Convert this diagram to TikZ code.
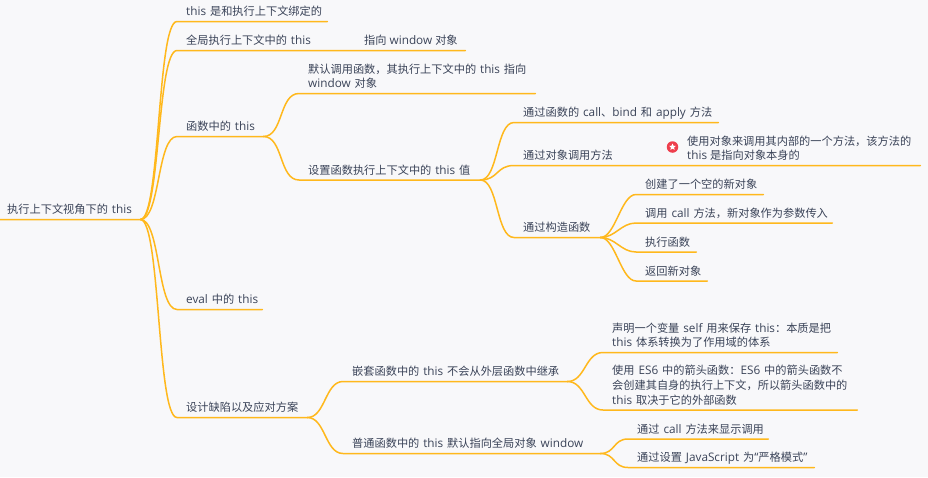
\documentclass[tikz,border=0pt]{standalone}
\usepackage{fontspec}
\setmainfont[Scale=1.05]{Open Sans}
\newfontfamily\cjk{Noto Sans CJK SC}
\usetikzlibrary{shapes.geometric}
\newcommand{\C}[1]{{\cjk #1}}
\definecolor{bgc}{HTML}{F8F8FA}
\definecolor{linec}{HTML}{FFB81C}
\definecolor{textc}{HTML}{3A4358}
\definecolor{starc}{HTML}{EE3F4D}
\tikzset{
  topic/.style={anchor=south west,inner xsep=0pt,inner ysep=0pt,text width=#1,align=left,text depth=5.5pt,
    text=textc,font=\fontsize{11.2}{14.7}\selectfont},
  plain/.style={anchor=south west,inner sep=0pt,text depth=5.5pt,text=textc,align=left,font=\fontsize{11.2}{14.7}\selectfont},
  twolines/.style={text depth=20.2pt},
  threelines/.style={text depth=34.9pt},
  linkc/.style={draw=linec,line width=1.5pt,line cap=round}
}
\newcommand{\branch}[3]{\draw[linkc] (#1.south east) .. controls +(#3,0) and +(-#3,0) .. ([xshift=-9pt]#2.south west) -- (#2.south east);}
\begin{document}
\begin{tikzpicture}[x=1pt,y=-1pt]
\fill[bgc] (0,0) rectangle (928,477);
\useasboundingbox (0,0) rectangle (928,477);
% nodes
\node[topic=140pt] (root) at (0,219.5) {\hspace{7pt}\C{执行上下文视角下的} this};
\node[topic=141pt] (n1) at (186,21.5) {this \C{是和执行上下文绑定的}};
\node[topic=279pt] (n2) at (186,50.5) {\C{全局执行上下文中的} this};
\node[plain] (n2b) at (364,50.5) {\C{指向} window \C{对象}};
\node[topic=77pt] (n3) at (186,136.5) {\C{函数中的} this};
\node[topic=227pt,twolines] (n3a) at (308,93.5) {\C{默认调用函数，其执行上下文中的} this \C{指向}\\window \C{对象}};
\node[topic=172pt] (n3b) at (308,180) {\C{设置函数执行上下文中的} this \C{值}};
\node[topic=195pt] (n3b1) at (523,122.5) {\C{通过函数的} call\C{、}bind \C{和} apply \C{方法}};
\node[topic=397pt] (n3b2) at (523,165.5) {\C{通过对象调用方法}};
\node[plain] (n3b2t) at (687,165.5) {\C{使用对象来调用其内部的一个方法，该方法的}\\this \C{是指向对象本身的}};
\node[circle,fill=starc,minimum size=11.5pt,inner sep=0pt] (icon) at (672.5,147) {};
\node[star,star points=5,star point ratio=2.2,fill=white,minimum size=7pt,inner sep=0pt] (iconstar) at (672.5,147) {};
\node[topic=77pt] (n3b3) at (523,237.5) {\C{通过构造函数}};
\node[topic=118pt] (c1) at (645,194.5) {\C{创建了一个空的新对象}};
\node[topic=187pt] (c2) at (645,223) {\C{调用} call \C{方法，新对象作为参数传入}};
\node[topic=51pt] (c3) at (645,252) {\C{执行函数}};
\node[topic=62pt] (c4) at (645,281) {\C{返回新对象}};
\node[topic=76pt] (n4) at (186,309.5) {eval \C{中的} this};
\node[topic=121pt] (n5) at (186,417.5) {\C{设计缺陷以及应对方案}};
\node[topic=215pt] (n5a) at (352,381.5) {\C{嵌套函数中的} this \C{不会从外层函数中继承}};
\node[topic=248pt] (n5b) at (352,453.5) {\C{普通函数中的} this \C{默认指向全局对象} window};
\node[topic=225pt,twolines] (d1) at (612,352.5) {\C{声明一个变量} self \C{用来保存} this\C{：本质是把}\\this \C{体系转换为了作用域的体系}};
\node[topic=245pt,threelines] (d2) at (612,410) {\C{使用} ES6 \C{中的箭头函数：}ES6 \C{中的箭头函数不}\\\C{会创建其自身的执行上下文，所以箭头函数中的}\\this \C{取决于它的外部函数}};
\node[topic=131pt] (e1) at (637,439) {\C{通过} call \C{方法来显示调用}};
\node[topic=177pt] (e2) at (637,467.5) {\C{通过设置} JavaScript \C{为}“\C{严格模式}”};
% connectors
\draw[linkc] (root.south west) -- (root.south east) .. controls +(20,0) and +(-20,0) .. ([xshift=-9pt]n1.south west) -- (n1.south east);
\branch{root}{n2}{20}
\branch{root}{n3}{20}
\branch{root}{n4}{20}
\branch{root}{n5}{20}
\branch{n3}{n3a}{20}
\branch{n3}{n3b}{20}
\branch{n3b}{n3b1}{18}
\branch{n3b}{n3b2}{18}
\branch{n3b}{n3b3}{18}
\branch{n3b3}{c1}{15}
\branch{n3b3}{c2}{15}
\branch{n3b3}{c3}{15}
\branch{n3b3}{c4}{15}
\branch{n5}{n5a}{18}
\branch{n5}{n5b}{18}
\branch{n5a}{d1}{18}
\branch{n5a}{d2}{18}
\branch{n5b}{e1}{15}
\branch{n5b}{e2}{15}
\end{tikzpicture}
\end{document}
